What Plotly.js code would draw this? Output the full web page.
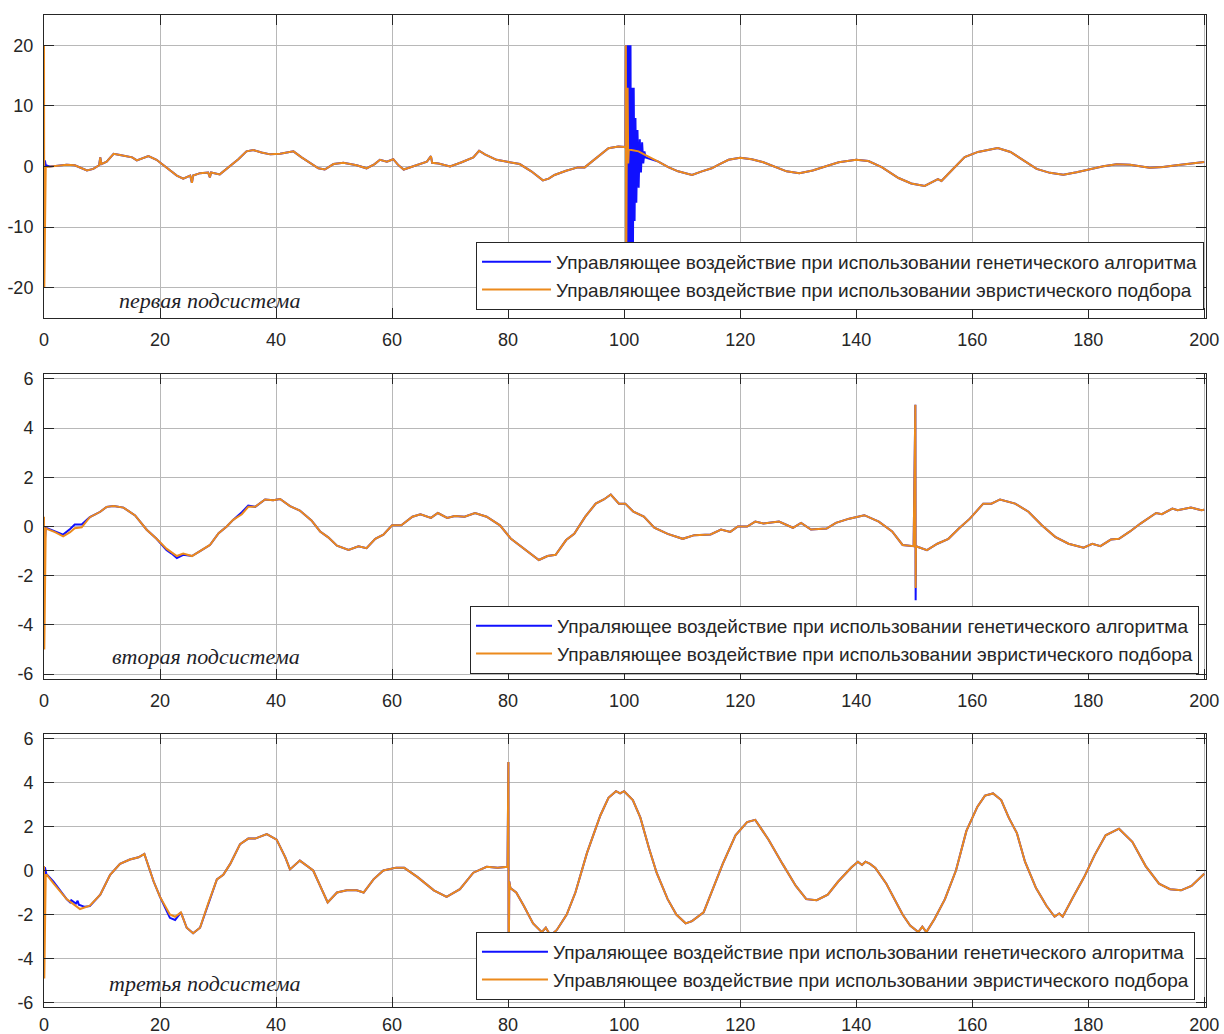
<!DOCTYPE html>
<html>
<head>
<meta charset="utf-8">
<script src="https://cdn.plot.ly/plotly-3.0.1.min.js"></script>
<style>
html,body{margin:0;padding:0;background:#fff;}
#chart{width:1224px;height:1034px;}
</style>
</head>
<body>
<div id="chart"></div>
<script>
// ---------------- DATA ----------------
// Panel 1 (первая подсистема) – orange (эвристический подбор)
const p1T = [0,0.05,0.3,1,2,3,3.9,5.3,6.5,7.4,8.5,9.5,9.7,9.9,10.8,12,13.1,14.3,15.2,16,17,18,19.4,21.1,22.9,24,25.2,25.5,25.7,26.9,28.3,28.6,28.8,30.3,32.1,33.5,34.9,36.1,37.5,39,40.7,42,43,44.4,45.9,47.3,48.4,49.9,51.6,53.9,55.6,57,57.9,59.1,60.2,61,62,64,66,66.7,66.9,68,70,72,74,75,76,78,80,82,84,86,87,88,90,92,93.2,94.4,96.1,97.3,99,100,100.25,100.3,100.35,100.45,100.6,100.7,100.8,102.5,103.6,105.9,107.6,109.3,111.1,111.7,113.4,115.1,116.3,118,120,122,124,126,128,130.2,132.5,134.8,137,140,142.1,144.4,147.3,149.5,151.8,154.1,154.7,156.4,158.7,161,164.4,166.6,168.9,171.1,173.4,175.7,178,180,182.6,184.9,187.2,190.6,192.9,195.2,197.4,199.4,200];
const p1Orange = [20,-20,-0.1,0,0.1,0.2,0.3,0.2,-0.3,-0.65,-0.4,0.2,1.5,0.4,0.8,2.1,1.9,1.7,1.5,1.0,1.3,1.7,1.1,-0.2,-1.5,-2.0,-1.5,-2.7,-1.5,-1.1,-1.0,-1.8,-1.0,-1.3,0.1,1.2,2.5,2.7,2.3,2.0,2.1,2.3,2.5,1.5,0.5,-0.3,-0.5,0.4,0.6,0.2,-0.3,0.4,1.1,0.8,1.2,0.3,-0.5,0.2,0.8,1.7,0.6,0.5,0,0.7,1.5,2.6,2.0,1.1,0.8,0.4,-0.8,-2.3,-2.0,-1.4,-0.7,-0.15,-0.15,0.8,2.2,3.0,3.3,3.2,3.2,20,-20,3,13,0.5,2.8,2.5,1.9,0.8,-0.1,-0.8,-1.2,-1.4,-0.8,-0.3,0.3,1.1,1.45,1.2,0.7,-0.1,-0.8,-1.1,-0.65,0.05,0.7,1.1,0.9,-0.1,-1.9,-2.8,-3.2,-2.1,-2.4,-0.7,1.55,2.4,3.05,2.4,1.0,-0.4,-1.05,-1.35,-0.95,-0.5,0.05,0.35,0.3,-0.2,-0.1,0.2,0.45,0.7,0.75];
// Panel 1 – blue (генетический алгоритм): where it differs from orange
const p1BlueWindows = [[-1,0.31],[100.26,103.9]];
const p1BlueT = [0,0.15,0.3,100.25,100.3,100.4,100.5,100.6,100.7,100.8,100.9,101.0,101.1,101.2,101.35,101.5,101.65,101.8,101.95,102.1,102.3,102.5,102.7,102.9,103.1,103.3,103.5,103.7];
const p1Blue = [0,1.0,0.2,3.2,20,-20,20,-20,20,-20,20,-20,20,-20,13,-18,13,-9,8,-6,6,-3.5,4.5,-1,4,0.5,2.5,1.5];

// Panel 2 (вторая подсистема)
const p2T = [0,0.05,0.3,0.5,1.9,3.3,4.5,5.3,6.5,7.9,9.7,10.8,12,13.7,15.7,17.7,19.4,21.1,22.9,24,25.5,26.9,27.8,28.6,30.1,31.5,32.6,34.1,35.2,36.4,38.1,39.5,40.7,42.4,44.1,46.1,47.6,49,50.5,52.5,54.2,55.6,57.1,58.5,60,61.6,63.5,64.9,66.7,67.9,69.5,70.8,72.5,74.3,76.3,78.6,80.5,82.7,85.3,86.8,88.2,90,91.4,93.3,95.1,96.5,97.7,99.1,100.2,101.6,103.4,105.2,107.5,110.1,112.1,114.9,116.7,118.3,119.6,121.2,122.6,124,126.7,129.1,130.5,132.2,134.9,136.5,138.8,141.4,143.9,146.2,148,149.9,150.2,150.25,150.3,152.2,154,155.9,157.7,159.6,161.9,163.3,164.8,167.4,169.7,172,174.3,176.6,179.2,180.7,182.1,183.9,185.3,187.2,189,191.7,192.7,194.5,195.4,197.7,199.5,200];
const p2Orange = [0.4,-5.0,-0.05,-0.1,-0.23,-0.4,-0.23,-0.07,-0.03,0.38,0.6,0.8,0.83,0.77,0.45,-0.13,-0.5,-0.9,-1.2,-1.1,-1.2,-1.0,-0.88,-0.75,-0.27,0.0,0.27,0.5,0.8,0.8,1.1,1.07,1.12,0.83,0.65,0.25,-0.2,-0.44,-0.78,-0.95,-0.8,-0.88,-0.5,-0.33,0.05,0.05,0.4,0.5,0.35,0.55,0.35,0.43,0.4,0.55,0.4,0.05,-0.5,-0.9,-1.36,-1.2,-1.15,-0.55,-0.3,0.4,0.93,1.1,1.3,0.93,0.93,0.6,0.4,-0.05,-0.3,-0.5,-0.35,-0.32,-0.12,-0.22,0,0.0,0.2,0.12,0.2,-0.05,0.15,-0.12,-0.08,0.15,0.32,0.46,0.2,-0.2,-0.75,-0.8,4.95,-2.5,-0.8,-0.96,-0.7,-0.5,-0.08,0.32,0.93,0.93,1.1,0.93,0.6,0.05,-0.42,-0.7,-0.86,-0.7,-0.8,-0.53,-0.5,-0.2,0.12,0.55,0.5,0.73,0.66,0.77,0.66,0.68];
const p2BlueWindows = [[-1,7.5],[20.5,24.5],[33.5,35.5],[150.1,150.28]];
const p2BlueT = [0,0.05,0.3,1.9,3.3,4.5,5.3,6.5,7.0,21.1,22.0,22.9,24.0,34.1,35.2,150.2,150.25];
const p2Blue = [0,-0.9,-0.05,-0.2,-0.33,-0.1,0.08,0.08,0.2,-0.95,-1.1,-1.28,-1.15,0.58,0.85,4.95,-3.0];

// Panel 3 (третья подсистема)
const p3T = [0,0.05,0.3,0.5,1.6,3.9,6.2,7.9,9.7,11.4,13.1,14.8,16.3,17.3,18.9,20,21.7,22.6,23.6,24.6,25.7,26.9,28.3,29.8,30.9,32.1,33.8,35.2,36.4,38.4,40.1,41.6,42.4,44.1,46.4,47.9,48.9,50.5,52.2,53.9,55.1,56.8,58.5,60.7,62.1,64.4,67.2,69.4,71.7,74,76.3,78.2,79.9,80.05,80.1,80.2,80.4,81.4,82.7,84.3,85.8,86.5,87.3,88.4,90.1,91.6,93.6,95.9,97.3,98.6,99.3,100,101.5,102.8,104.3,105.6,107.5,109,110.6,111.7,113.7,115,117,119.2,121.2,122.6,124.9,127.3,129.6,131.4,133.2,135.1,136.9,139.2,140.3,141,141.6,142.4,143.3,145.2,146.6,148,149.3,150.7,151.4,152.1,153.5,155.3,157.2,159,160.9,162.2,163.6,165,166.3,167.7,169.1,171,172.8,174.2,175,175.6,177.4,179.3,181.1,183,185.3,187.6,189.9,192.2,194.1,196,197.8,200];
const p3Orange = [0.2,-4.9,-0.2,-0.2,-0.57,-1.3,-1.75,-1.6,-1.1,-0.2,0.3,0.5,0.6,0.75,-0.5,-1.2,-2.0,-2.1,-1.9,-2.6,-2.85,-2.6,-1.5,-0.4,-0.2,0.3,1.2,1.45,1.45,1.65,1.4,0.6,0.05,0.45,0.0,-0.9,-1.45,-1.0,-0.9,-0.9,-1.0,-0.4,0.0,0.13,0.12,-0.3,-0.9,-1.2,-0.85,-0.1,0.17,0.12,0.17,4.93,-5,-0.5,-0.8,-1.0,-1.6,-2.4,-2.8,-2.6,-2.95,-2.7,-2.0,-1.0,0.8,2.5,3.3,3.6,3.5,3.6,3.2,2.4,1.0,-0.1,-1.3,-2.0,-2.4,-2.3,-1.9,-1.0,0.3,1.6,2.2,2.3,1.4,0.3,-0.7,-1.3,-1.35,-1.1,-0.5,0.15,0.4,0.25,0.4,0.3,0.12,-0.6,-1.3,-2.0,-2.5,-2.8,-2.55,-2.8,-2.2,-1.3,0.0,1.8,2.9,3.4,3.5,3.2,2.4,1.7,0.4,-0.8,-1.6,-2.1,-1.95,-2.1,-1.2,-0.3,0.7,1.6,1.9,1.3,0.2,-0.6,-0.85,-0.9,-0.7,-0.15];
const p3BlueWindows = [[-1,9.0],[20.5,23.3]];
const p3BlueT = [0,0.05,0.15,0.4,1.6,3.9,4.5,4.7,5.5,5.8,6.0,7.0,7.9,9.0,21.7,22.6,23.3];
const p3Blue = [0.15,-1.1,0.15,-0.15,-0.5,-1.3,-1.45,-1.35,-1.5,-1.38,-1.55,-1.65,-1.62,-1.3,-2.15,-2.25,-2.0];

// Tick labels
const xTickVals = [0,20,40,60,80,100,120,140,160,180,200];
const xTickText = ['0','20','40','60','80','100','120','140','160','180','200'];
const p1YTickVals = [-20,-10,0,10,20];
const p1YTickText = ['-20','-10','0','10','20'];
const p23YTickVals = [-6,-4,-2,0,2,4,6];
const p23YTickText = ['-6','-4','-2','0','2','4','6'];

// Legend names and panel captions
const nameGA1 = 'Управляющее воздействие при использовании генетического алгоритма';
const nameGA23 = 'Упраляющее воздействие при использовании генетического алгоритма';
const nameHeur = 'Управляющее воздействие при использовании эвристического подбора';
const captions = ['первая подсистема','вторая подсистема','третья подсистема'];

// ---------------- BUILD ----------------
function buildBlue(tO, vO, windows, tB, vB){
  const pts = [];
  for(let i=0;i<tO.length;i++){
    const t = tO[i];
    let inside = false;
    for(const w of windows){ if(t>=w[0] && t<=w[1]) { inside = true; break; } }
    if(!inside) pts.push([t, vO[i], i]);
  }
  for(let i=0;i<tB.length;i++) pts.push([tB[i], vB[i], 1e6+i]);
  pts.sort((a,b)=> a[0]-b[0] || a[2]-b[2]);
  return {x: pts.map(p=>p[0]), y: pts.map(p=>p[1])};
}

const BLUE = '#1010ff';
const ORANGE = '#ec8a1c';
const LW = 2;

const b1 = buildBlue(p1T,p1Orange,p1BlueWindows,p1BlueT,p1Blue);
const b2 = buildBlue(p2T,p2Orange,p2BlueWindows,p2BlueT,p2Blue);
const b3 = buildBlue(p3T,p3Orange,p3BlueWindows,p3BlueT,p3Blue);

const traces = [
  {x:b1.x, y:b1.y, xaxis:'x', yaxis:'y', mode:'lines', line:{color:BLUE,width:LW}, name:nameGA1, legend:'legend'},
  {x:p1T, y:p1Orange, xaxis:'x', yaxis:'y', mode:'lines', line:{color:ORANGE,width:LW}, name:nameHeur, legend:'legend'},
  {x:b2.x, y:b2.y, xaxis:'x2', yaxis:'y2', mode:'lines', line:{color:BLUE,width:LW}, name:nameGA23, legend:'legend2'},
  {x:p2T, y:p2Orange, xaxis:'x2', yaxis:'y2', mode:'lines', line:{color:ORANGE,width:LW}, name:nameHeur, legend:'legend2'},
  {x:b3.x, y:b3.y, xaxis:'x3', yaxis:'y3', mode:'lines', line:{color:BLUE,width:LW}, name:nameGA23, legend:'legend3'},
  {x:p3T, y:p3Orange, xaxis:'x3', yaxis:'y3', mode:'lines', line:{color:ORANGE,width:LW}, name:nameHeur, legend:'legend3'}
];

const TICKCOL = '#262626';
const FONT = 'Liberation Sans, Arial, sans-serif';
function xax(anchor, standoff){
  return {anchor:anchor, range:[0,200.3], tickvals:xTickVals, ticktext:xTickText,
    showgrid:true, gridcolor:'#b8b8b8', gridwidth:1, zeroline:false,
    showline:true, linecolor:TICKCOL, linewidth:1, mirror:'ticks',
    ticks:'inside', ticklen:10, tickcolor:TICKCOL, ticklabelstandoff:standoff,
    tickfont:{family:FONT,size:18,color:TICKCOL}, fixedrange:true};
}
function yax(anchor, dom, rng, tv, tt){
  return {anchor:anchor, domain:dom, range:rng, tickvals:tv, ticktext:tt,
    showgrid:true, gridcolor:'#b8b8b8', gridwidth:1, zeroline:false,
    showline:true, linecolor:TICKCOL, linewidth:1, mirror:'ticks',
    ticks:'inside', ticklen:10, tickcolor:TICKCOL, ticklabelstandoff:6,
    tickfont:{family:FONT,size:18,color:TICKCOL}, fixedrange:true};
}
function leg(x,y,iw){
  return {x:x, y:y, xanchor:'right', yanchor:'bottom', xref:'paper', yref:'paper',
    bgcolor:'#ffffff', bordercolor:'#262626', borderwidth:1,
    font:{family:FONT,size:19,color:'#262626'}, itemwidth:iw, tracegroupgap:0,
    itemclick:false, itemdoubleclick:false};
}
function cap(text, xr, yr, x, y){
  return {text:'<i>'+text+'</i>', xref:xr, yref:yr, x:x, y:y, showarrow:false,
    xanchor:'center', yanchor:'middle',
    font:{family:'Liberation Serif, Times New Roman, serif', size:22, color:'#1e1e28'}};
}

const layout = {
  width:1224, height:1034,
  margin:{l:44, r:18, t:15, b:27},
  paper_bgcolor:'#ffffff', plot_bgcolor:'#ffffff',
  showlegend:true,
  xaxis: xax('y',5),
  yaxis: yax('x',[0.6946,1.0],[-25,25],p1YTickVals,p1YTickText),
  xaxis2: xax('y2',5),
  yaxis2: yax('x2',[0.3306,0.6381],[-6.2,6.2],p23YTickVals,p23YTickText),
  xaxis3: xax('y3',1),
  yaxis3: yax('x3',[0,0.2752],[-6.2,6.2],p23YTickVals,p23YTickText),
  legend: leg(0.9983,0.7026,69),
  legend2: leg(0.994,0.3357,76),
  legend3: leg(0.9905,0.0071,66),
  annotations:[
    cap(captions[0],'x','y',28.6,-22.2),
    cap(captions[1],'x2','y2',27.9,-5.3),
    cap(captions[2],'x3','y3',27.8,-5.15)
  ]
};

Plotly.newPlot('chart', traces, layout, {displayModeBar:false, staticPlot:true});
</script>
</body>
</html>
